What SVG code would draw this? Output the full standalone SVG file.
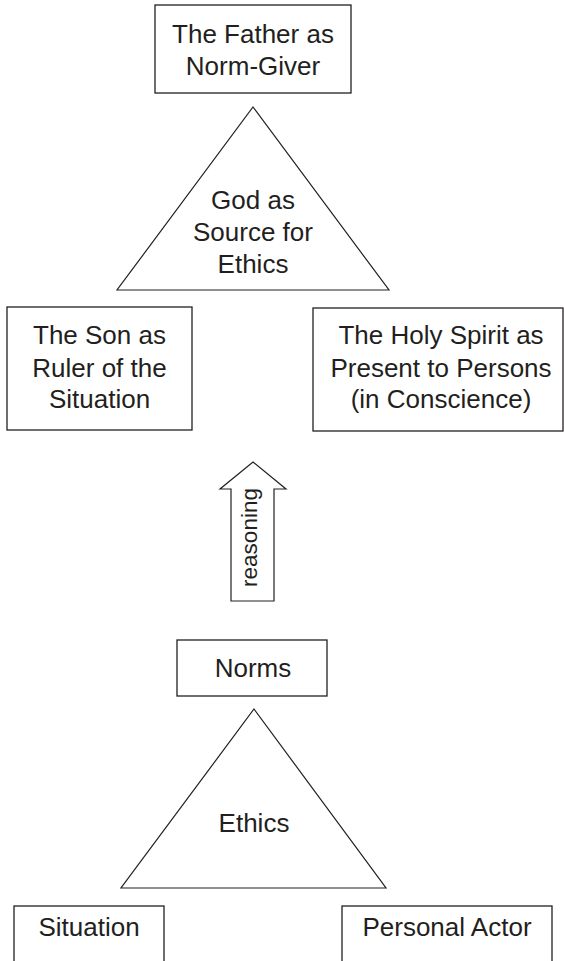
<svg xmlns="http://www.w3.org/2000/svg" width="564" height="961" viewBox="0 0 564 961">
<style>
.box{fill:#fff;stroke:#231f20;stroke-width:1.3}
.tri{fill:#fff;stroke:#231f20;stroke-width:1.2}
.t{font-family:"Liberation Sans",Arial,sans-serif;font-size:26px;fill:#231f20;text-anchor:middle}
.r{font-size:22.5px}
</style>
<rect width="564" height="961" fill="#fff"/>
<g id="father">
<rect class="box" x="155" y="5" width="196" height="88"/>
<text class="t" x="253" y="43">The Father as</text>
<text class="t" x="253" y="75">Norm-Giver</text>
</g>
<g id="god">
<polygon class="tri" points="253,107 389,290 117,290"/>
<text class="t" x="253" y="209">God as</text>
<text class="t" x="253" y="241">Source for</text>
<text class="t" x="253" y="273">Ethics</text>
</g>
<g id="son">
<rect class="box" x="7" y="307" width="185" height="123"/>
<text class="t" x="99.5" y="344">The Son as</text>
<text class="t" x="99.5" y="377">Ruler of the</text>
<text class="t" x="99.5" y="408">Situation</text>
</g>
<g id="spirit">
<rect class="box" x="313" y="308" width="250" height="123"/>
<text class="t" x="441" y="344">The Holy Spirit as</text>
<text class="t" x="441" y="377">Present to Persons</text>
<text class="t" x="441" y="408">(in Conscience)</text>
</g>
<g id="connectors">
<g id="reasoning">
<polygon class="tri" points="253,462 286,489 274,489 274,601 231,601 231,489 220,489"/>
<text class="t r" transform="translate(257,537.5) rotate(-90)" x="0" y="0">reasoning</text>
</g>
</g>
<g id="norms">
<rect class="box" x="177" y="640" width="150" height="56"/>
<text class="t" x="253" y="677">Norms</text>
</g>
<g id="ethics">
<polygon class="tri" points="254,709 386,888 121,888"/>
<text class="t" x="254" y="832">Ethics</text>
</g>
<g id="situation">
<rect class="box" x="14" y="906" width="150" height="70"/>
<text class="t" x="89" y="936">Situation</text>
</g>
<g id="actor">
<rect class="box" x="342" y="906" width="210" height="70"/>
<text class="t" x="447" y="936">Personal Actor</text>
</g>
</svg>
